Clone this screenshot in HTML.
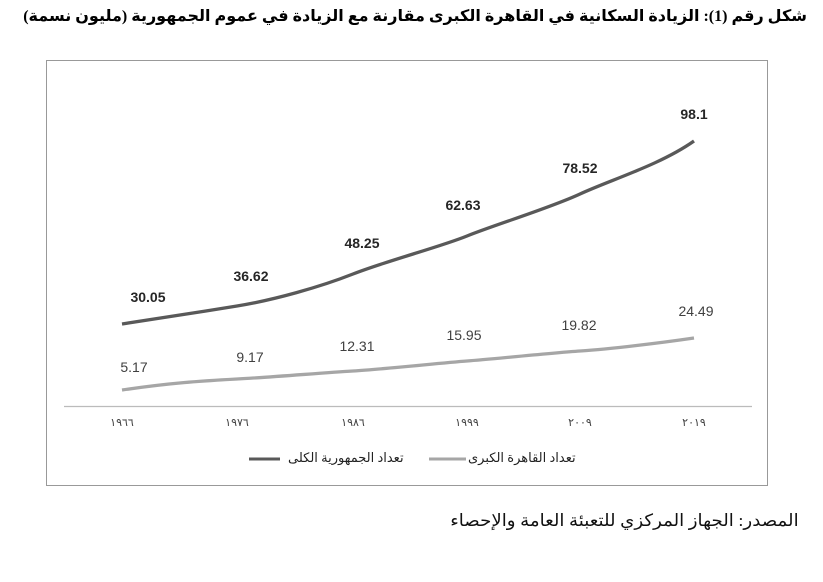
<!DOCTYPE html>
<html><head><meta charset="utf-8"><style>
body{margin:0;background:#fff;width:823px;height:582px;overflow:hidden;position:relative;font-family:"Liberation Serif","DejaVu Sans",serif}
.t{position:absolute;white-space:nowrap}
</style></head><body>
<div class="t" dir="rtl" style="right:16px;top:6px;font-size:16px;font-weight:bold;transform:scaleX(1.0);transform-origin:right center;font-family:'Liberation Serif','DejaVu Sans',serif">شكل رقم (1): الزيادة السكانية في القاهرة الكبرى مقارنة مع الزيادة في عموم الجمهورية (مليون نسمة)</div>
<svg style="position:absolute;left:0;top:0" width="823" height="582">
<rect x="46.5" y="60.5" width="721" height="425" fill="none" stroke="#999" stroke-width="1"/>
<line x1="64" y1="406.5" x2="752" y2="406.5" stroke="#bbb" stroke-width="1.3"/>
<path d="M122,324 C180,315 200,312 237,306 S320,287 353,274 S440,247 467,236 S550,208 580,194 S660,165 694,141" fill="none" stroke="#595959" stroke-width="3.3"/>
<path d="M122,390 C170,383 200,381 237,379 S320,373 353,371 S440,363 467,361 S550,353 580,351 S660,343 694,338" fill="none" stroke="#a6a6a6" stroke-width="3.3"/>
<g font-family="Liberation Sans,sans-serif" font-size="14" font-weight="bold" fill="#262626" text-anchor="middle">
<text x="148" y="302">30.05</text><text x="251" y="281">36.62</text><text x="362" y="248">48.25</text><text x="463" y="210">62.63</text><text x="580" y="173">78.52</text><text x="694" y="119">98.1</text>
</g>
<g font-family="Liberation Sans,sans-serif" font-size="14" fill="#404040" text-anchor="middle">
<text x="134" y="372">5.17</text><text x="250" y="362">9.17</text><text x="357" y="351">12.31</text><text x="464" y="340">15.95</text><text x="579" y="330">19.82</text><text x="696" y="316">24.49</text>
</g>
<g font-family="DejaVu Sans,sans-serif" font-size="11" fill="#404040" text-anchor="middle">
<text x="122" y="426">١٩٦٦</text><text x="237" y="426">١٩٧٦</text><text x="353" y="426">١٩٨٦</text><text x="467" y="426">١٩٩٩</text><text x="580" y="426">٢٠٠٩</text><text x="694" y="426">٢٠١٩</text>
</g>
<line x1="249" y1="459" x2="280" y2="459" stroke="#595959" stroke-width="3"/>
<line x1="429" y1="459" x2="466" y2="459" stroke="#a6a6a6" stroke-width="3"/>
</svg>
<div class="t" dir="rtl" style="left:288px;top:450px;font-size:13px;color:#222;font-family:'Liberation Serif','DejaVu Sans',serif">تعداد الجمهورية الكلى</div>
<div class="t" dir="rtl" style="left:468px;top:450px;font-size:13px;color:#222;font-family:'Liberation Serif','DejaVu Sans',serif">تعداد القاهرة الكبرى</div>
<div class="t" dir="rtl" style="right:24px;top:511px;font-size:17px;color:#111;transform:scaleX(1.07);transform-origin:right center;font-family:'Liberation Serif','DejaVu Sans',serif">المصدر: الجهاز المركزي للتعبئة العامة والإحصاء</div>
</body></html>
